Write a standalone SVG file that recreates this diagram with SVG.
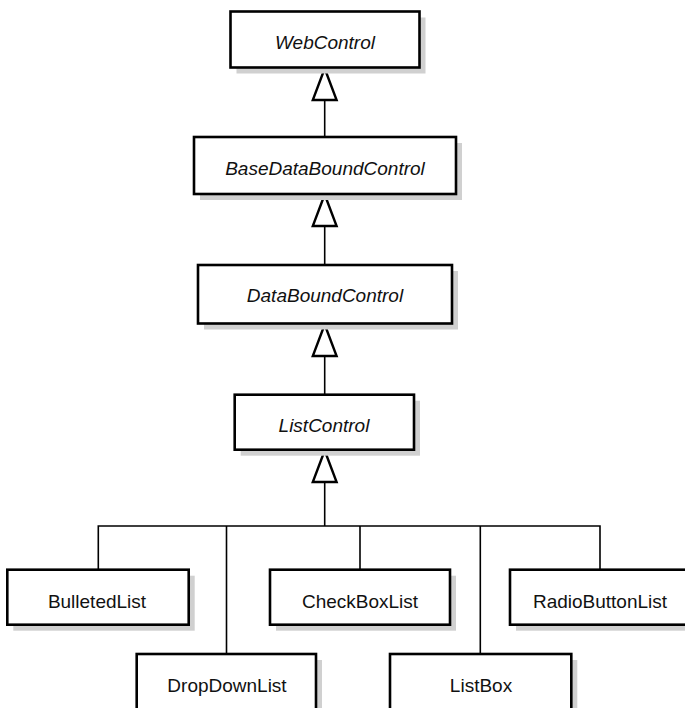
<svg xmlns="http://www.w3.org/2000/svg" width="685" height="708" viewBox="0 0 685 708">
<style>
.box{fill:#fff;stroke:#000;stroke-width:2.6}
.sh{fill:#d0d0d0;stroke:none}
.t{font-family:"Liberation Sans","DejaVu Sans",sans-serif;font-size:19px;fill:#111;text-anchor:middle}
.i{font-style:italic}
.ln{fill:none;stroke:#000;stroke-width:1.6}
.tri{fill:#fff;stroke:#000;stroke-width:2.4;stroke-linejoin:miter}
</style>
<rect width="685" height="708" fill="#fff"/>
<g id="connectors">
<line class="ln" x1="324.7" y1="99" x2="324.7" y2="137"/>
<line class="ln" x1="324.7" y1="226" x2="324.7" y2="265"/>
<line class="ln" x1="324.7" y1="356" x2="324.7" y2="395"/>
<line class="ln" x1="324.7" y1="482" x2="324.7" y2="526"/>
<polyline class="ln" points="98.3,570 98.3,526 600,526 600,570"/>
<line class="ln" x1="226.5" y1="526" x2="226.5" y2="654"/>
<line class="ln" x1="360" y1="526" x2="360" y2="570"/>
<line class="ln" x1="480.3" y1="526" x2="480.3" y2="654"/>
<polygon class="tri" points="324.7,68.5 312.8,100 336.6,100"/>
<polygon class="tri" points="324.7,194.5 312.8,226 336.6,226"/>
<polygon class="tri" points="324.7,324.5 312.8,356 336.6,356"/>
<polygon class="tri" points="324.7,450.5 312.8,482 336.6,482"/>
</g>
<g id="WebControl">
<rect class="sh" x="236.5" y="17.5" width="189" height="56"/>
<rect class="box" x="230.5" y="11.5" width="189" height="56"/>
<text class="t i" x="325" y="49">WebControl</text>
</g>
<g id="BaseDataBoundControl">
<rect class="sh" x="200" y="143" width="262" height="57"/>
<rect class="box" x="194" y="137" width="262" height="57"/>
<text class="t i" x="325" y="175">BaseDataBoundControl</text>
</g>
<g id="DataBoundControl">
<rect class="sh" x="204" y="271" width="254" height="58.5"/>
<rect class="box" x="198" y="265" width="254" height="58.5"/>
<text class="t i" x="325" y="302">DataBoundControl</text>
</g>
<g id="ListControl">
<rect class="sh" x="240.7" y="400.7" width="179.3" height="55"/>
<rect class="box" x="234.7" y="394.7" width="179.3" height="55"/>
<text class="t i" x="324" y="432">ListControl</text>
</g>
<g id="BulletedList">
<rect class="sh" x="13.3" y="575.7" width="181.4" height="55"/>
<rect class="box" x="7.3" y="569.7" width="181.4" height="55"/>
<text class="t" x="97" y="608">BulletedList</text>
</g>
<g id="CheckBoxList">
<rect class="sh" x="276" y="575.7" width="180" height="55"/>
<rect class="box" x="270" y="569.7" width="180" height="55"/>
<text class="t" x="360" y="608">CheckBoxList</text>
</g>
<g id="RadioButtonList">
<rect class="sh" x="516" y="575.7" width="181" height="55"/>
<rect class="box" x="510" y="569.7" width="181" height="55"/>
<text class="t" x="600" y="608">RadioButtonList</text>
</g>
<g id="DropDownList">
<rect class="sh" x="142.7" y="660" width="179.3" height="56"/>
<rect class="box" x="136.7" y="654" width="179.3" height="56"/>
<text class="t" x="227" y="692">DropDownList</text>
</g>
<g id="ListBox">
<rect class="sh" x="396" y="660" width="181.3" height="56"/>
<rect class="box" x="390" y="654" width="181.3" height="56"/>
<text class="t" x="481" y="692">ListBox</text>
</g>
</svg>
